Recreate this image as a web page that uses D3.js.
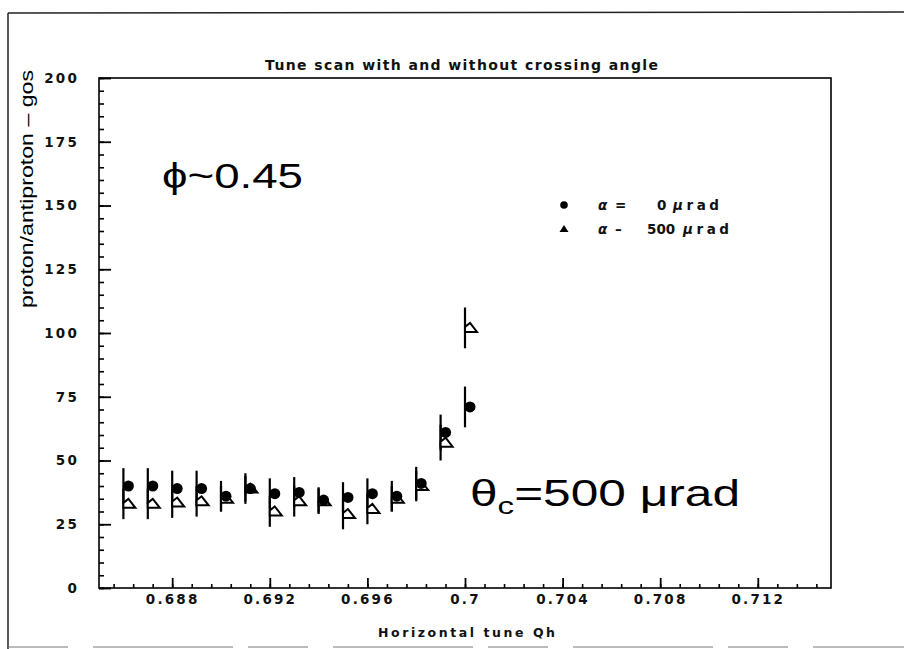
<!DOCTYPE html>
<html>
<head>
<meta charset="utf-8">
<script src="https://cdn.jsdelivr.net/npm/d3@7/dist/d3.min.js"></script>
<style>
  html, body { margin: 0; padding: 0; background: #fff; }
  svg { display: block; }
  .geo { font-family: "DejaVu Sans", sans-serif; font-weight: bold; fill: #111; }
  .arial { font-family: "Liberation Sans", Arial, sans-serif; fill: #000; }
</style>
</head>
<body>
<svg id="chart" width="904" height="649"></svg>
<script>
// Horizontal tune scan points (Qh)
const qh = [0.686, 0.687, 0.688, 0.689, 0.690, 0.691, 0.692, 0.693,
            0.694, 0.695, 0.696, 0.697, 0.698, 0.699, 0.700];
// alpha = 0 urad
const rate0 = [40, 40, 39, 39, 36, 39, 37, 37.5, 34.5, 35.5, 37, 36, 41, 61, 71];
const err0  = [7, 7, 7, 7, 6, 6, 6, 6, 5, 6, 6, 6, 6.5, 7, 8];
// alpha = 500 urad
const rate500 = [33, 33, 33.5, 34, 35, 39, 30, 34, 34, 29, 31, 35, 40, 57, 102];
const err500  = [6, 6, 6, 6, 5, 5, 6, 6, 5, 6, 6, 5, 6, 7, 8];

const xTicks = [0.688, 0.692, 0.696, 0.700, 0.704, 0.708, 0.712];
const xTickLabels = ["0.688", "0.692", "0.696", "0.7", "0.704", "0.708", "0.712"];
const yTicks = [0, 25, 50, 75, 100, 125, 150, 175, 200];
const yTickLabels = ["0", "25", "50", "75", "100", "125", "150", "175", "200"];

const svg = d3.select("#chart");
const L = 99, R = 831, T = 78, B = 588;

const x = d3.scaleLinear().domain([0.685, 0.715]).range([L, R]);
const y = d3.scaleLinear().domain([0, 200]).range([B, T]);

// page border (left, top, bottom)
const border = svg.append("g").attr("stroke", "#222").attr("stroke-width", 1.5);
border.append("line").attr("x1", 8).attr("y1", 13).attr("x2", 8).attr("y2", 649);
border.append("line").attr("x1", 8).attr("y1", 13).attr("x2", 904).attr("y2", 12);
border.append("line").attr("x1", 8).attr("y1", 647).attr("x2", 904).attr("y2", 647)
  .attr("stroke-dasharray", "60,25,140,15").attr("stroke", "#777").attr("stroke-width", 1);

// plot frame
svg.append("rect")
  .attr("x", L).attr("y", T).attr("width", R - L).attr("height", B - T)
  .attr("fill", "none").attr("stroke", "#000").attr("stroke-width", 1.6);

// x axis: major ticks with labels, minor ticks every 0.0008
const xMinor = d3.range(0, 37).map(i => 0.6856 + i * 0.0008);
svg.append("g")
  .attr("transform", `translate(0,${B})`)
  .call(d3.axisBottom(x).tickValues(xMinor).tickSize(-4).tickFormat(""))
  .call(g => g.select(".domain").remove())
  .call(g => g.selectAll("line").attr("stroke-width", 1.6));
const xAxis = svg.append("g")
  .attr("transform", `translate(0,${B})`)
  .call(d3.axisBottom(x).tickValues(xTicks).tickSize(-10).tickPadding(6)
        .tickFormat((d, i) => xTickLabels[i]));
xAxis.select(".domain").remove();
xAxis.selectAll("line").attr("stroke-width", 1.8);
xAxis.selectAll("text").attr("class", "geo")
  .style("font-size", "13.5px").style("letter-spacing", "2.2px");

// y axis: major ticks with labels, minor ticks every 5
const yMinor = d3.range(0, 41).map(i => i * 5);
svg.append("g")
  .attr("transform", `translate(${L},0)`)
  .call(d3.axisLeft(y).tickValues(yMinor).tickSize(-5).tickFormat(""))
  .call(g => g.select(".domain").remove())
  .call(g => g.selectAll("line").attr("stroke-width", 1.6));
const yAxis = svg.append("g")
  .attr("transform", `translate(${L},0)`)
  .call(d3.axisLeft(y).tickValues(yTicks).tickSize(-12).tickPadding(20)
        .tickFormat((d, i) => yTickLabels[i]));
yAxis.select(".domain").remove();
yAxis.selectAll("line").attr("stroke-width", 1.8);
yAxis.selectAll("text").attr("class", "geo")
  .style("font-size", "13.5px").style("letter-spacing", "2.2px");

// title
svg.append("text").attr("class", "geo")
  .attr("x", 265).attr("y", 70)
  .attr("textLength", 393).attr("lengthAdjust", "spacing")
  .style("font-size", "14px")
  .text("Tune scan with and without crossing angle");

// axis titles
svg.append("text").attr("class", "geo")
  .attr("x", 378).attr("y", 637)
  .attr("textLength", 177).attr("lengthAdjust", "spacing")
  .style("font-size", "12.5px")
  .text("Horizontal tune Qh");
svg.append("text").attr("class", "arial")
  .attr("transform", "translate(33,189) rotate(-90)")
  .attr("text-anchor", "middle")
  .attr("textLength", 238).attr("lengthAdjust", "spacingAndGlyphs")
  .style("font-size", "19px")
  .text("proton/antiproton \u2013 gos");

// error bars
const pts0 = qh.map((q, i) => ({ q, v: rate0[i], e: err0[i] }));
const pts500 = qh.map((q, i) => ({ q, v: rate500[i], e: err500[i] }));
const bars = svg.append("g").attr("stroke", "#000").attr("stroke-width", 2.2);
[pts500, pts0].forEach(pts => {
  bars.selectAll(null).data(pts).enter().append("line")
    .attr("x1", d => x(d.q)).attr("x2", d => x(d.q))
    .attr("y1", d => y(d.v + d.e)).attr("y2", d => y(d.v - d.e));
});

// open triangles (alpha = 500 urad)
const tri = (cx, cy) => `M${cx + 5},${cy - 5} L${cx + 12},${cy + 4} L${cx},${cy + 4} L${cx},${cy - 1} Z`;
svg.append("g").selectAll("path").data(pts500).enter().append("path")
  .attr("d", d => tri(x(d.q), y(d.v)))
  .attr("fill", "#fff").attr("stroke", "#000").attr("stroke-width", 2);

// filled circles (alpha = 0 urad)
svg.append("g").selectAll("circle").data(pts0).enter().append("circle")
  .attr("cx", d => x(d.q) + 5).attr("cy", d => y(d.v))
  .attr("r", 5.5).attr("fill", "#000");

// legend
svg.append("circle").attr("cx", 564).attr("cy", 205).attr("r", 3.8).attr("fill", "#000");
svg.append("path").attr("d", "M564,225 L568.5,232 L559.5,232 Z").attr("fill", "#000");
function legendLine(yb, sign, val, valX, unitX) {
  const g = svg.append("g").attr("class", "geo").style("font-size", "13.5px");
  g.append("text").attr("x", 598).attr("y", yb).style("font-style", "italic").text("\u03b1");
  g.append("text").attr("x", 615).attr("y", yb).text(sign);
  g.append("text").attr("x", valX).attr("y", yb).text(val);
  const u = g.append("text").attr("x", unitX).attr("y", yb)
    .attr("textLength", 46).attr("lengthAdjust", "spacing");
  u.append("tspan").style("font-style", "italic").text("\u03bc");
  u.append("tspan").text("rad");
}
legendLine(210, "=", "0", 657, 673);
legendLine(234, "\u2013", "500", 647, 683);

// annotations
svg.append("text").attr("class", "arial")
  .attr("x", 162).attr("y", 188)
  .attr("textLength", 141).attr("lengthAdjust", "spacingAndGlyphs")
  .style("font-size", "35px")
  .text("\u03d5~0.45");
const th = svg.append("text").attr("class", "arial")
  .attr("x", 470).attr("y", 506)
  .attr("textLength", 270).attr("lengthAdjust", "spacingAndGlyphs")
  .style("font-size", "36px");
th.append("tspan").text("\u03b8");
th.append("tspan").attr("dy", 8).style("font-size", "24px").text("c");
th.append("tspan").attr("dy", -8).text("=500 \u03bcrad");
</script>
</body>
</html>
